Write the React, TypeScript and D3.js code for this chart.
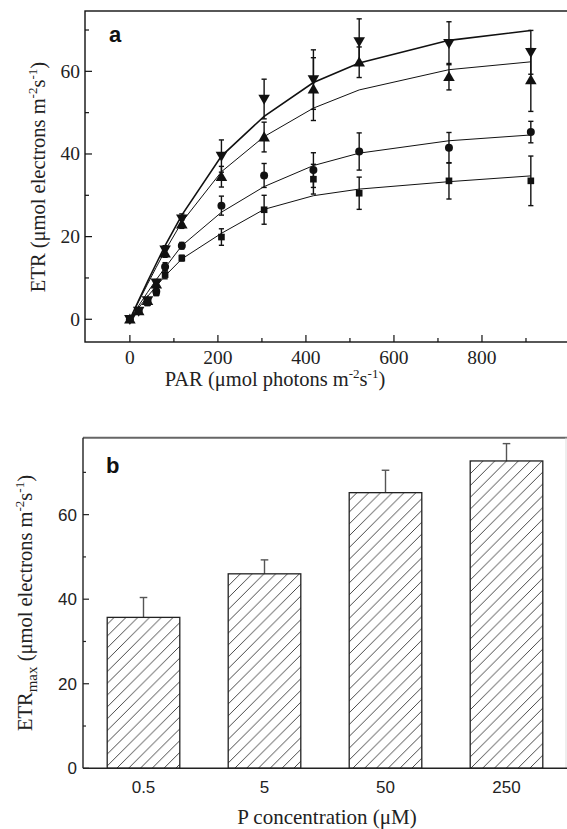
import React from 'react';
import * as d3 from 'd3';

// PAR levels (µmol photons m-2 s-1)
const par = [0, 20, 40, 60, 80, 118, 208, 305, 417, 521, 725, 911];

// measured ETR, one array per P concentration
const etr05 = [0, 2.0, 4.0, 6.5, 10.8, 14.8, 19.9, 26.5, 33.9, 30.5, 33.5, 33.5];
const err05 = [0.4, 0.5, 0.7, 0.8, 1.0, 0.7, 2.0, 3.5, 3.6, 3.9, 4.4, 6.0];
const etr5 = [0, 2.0, 4.5, 6.7, 12.7, 17.8, 27.5, 34.8, 36.1, 40.6, 41.5, 45.3];
const err5 = [0.4, 0.5, 0.7, 0.8, 1.0, 0.8, 2.3, 2.9, 4.2, 4.5, 3.7, 2.6];
const etr50 = [0, 2.0, 4.5, 8.5, 16.0, 23.0, 34.5, 44.1, 55.7, 62.2, 58.7, 57.9];
const err50 = [0.4, 0.5, 0.7, 0.8, 1.0, 1.0, 2.5, 3.6, 7.6, 3.7, 3.2, 7.6];
const etr250 = [0, 2.0, 4.5, 8.8, 16.8, 24.3, 39.5, 53.3, 58.0, 67.2, 66.8, 64.6];
const err250 = [0.4, 0.5, 0.7, 0.8, 1.0, 1.2, 3.9, 4.8, 7.2, 5.5, 5.2, 5.3];

// fitted curves read at the same PAR levels
const fit05 = [0, 2.8, 5.5, 8.0, 10.5, 14.6, 20.8, 26.6, 29.9, 31.5, 33.3, 34.7];
const fit5 = [0, 3.3, 6.5, 9.6, 12.5, 17.8, 25.9, 32.1, 37.2, 40.2, 43.2, 44.6];
const fit50 = [0, 4.3, 8.5, 12.6, 16.6, 23.5, 35.7, 44.2, 51.1, 55.5, 60.4, 62.3];
const fit250 = [0, 4.6, 9.1, 13.5, 17.8, 25.2, 39.5, 49.1, 57.3, 62.0, 67.5, 69.9];

// panel b
const conc = ['0.5', '5', '50', '250'];
const etrMax = [35.7, 46.0, 65.2, 72.7];
const etrMaxErr = [4.7, 3.3, 5.3, 4.1];

const xTicksA = [0, 200, 400, 600, 800];
const xMinorA = [100, 300, 500, 700, 900];
const yTicksA = [0, 20, 40, 60];
const yMinorA = [10, 30, 50, 70];
const yTicksB = [0, 20, 40, 60];
const yMinorB = [10, 30, 50, 70];

const SERIF = "'Liberation Serif', 'Times New Roman', serif";
const SANS = "'Liberation Sans', Arial, sans-serif";

const series = [
  { etr: etr05, err: err05, fit: fit05, symbol: 'square', lw: 1 },
  { etr: etr5, err: err5, fit: fit5, symbol: 'circle', lw: 1 },
  { etr: etr50, err: err50, fit: fit50, symbol: 'up', lw: 1 },
  { etr: etr250, err: err250, fit: fit250, symbol: 'down', lw: 1.6 },
];

const symPath = (s: string) => {
  if (s === 'square') return d3.symbol(d3.symbolSquare, 44)();
  if (s === 'circle') return d3.symbol(d3.symbolCircle, 50)();
  return d3.symbol(d3.symbolTriangle, 58)();
};

// label with superscripts m-2 s-1
const Units = ({ pre }: { pre: string }) => (
  <>
    {pre}m<tspan dy={-8} fontSize={13}>-2</tspan><tspan dy={8}>s</tspan><tspan dy={-8} fontSize={13}>-1</tspan><tspan dy={8}>)</tspan>
  </>
);

export default function App() {
  // panel a
  const xA = d3.scaleLinear().domain([-102, 1000]).range([85, 570]);
  const yA = d3.scaleLinear().domain([-5.5, 74.6]).range([342, 11]);
  const line = d3.line<number>().x((_, i) => xA(par[i])).y(d => yA(d));

  // panel b
  const xB = d3.scaleBand().domain(conc).range([83, 567]).paddingInner(0.4).paddingOuter(0.2);
  const yB = d3.scaleLinear().domain([0, 78.2]).range([768.3, 437.7]);

  const [ax0, ax1] = xA.range();
  const [ay0, ay1] = yA.range();

  return (
    <svg width={567} height={829} style={{ position: 'absolute', left: 0, top: 0, background: '#fff' }}>
      <defs>
        <pattern id="hatch" patternUnits="userSpaceOnUse" width={11.8} height={11.8}>
          <path d="M-3,3 L3,-3 M0,11.8 L11.8,0 M8.8,14.8 L14.8,8.8" stroke="#333" strokeWidth={0.9} />
        </pattern>
      </defs>

      {/* ---------- panel a ---------- */}
      <rect x={ax0} y={ay1} width={ax1 - ax0} height={ay0 - ay1} fill="none" stroke="#111" strokeWidth={1.4} />
      {xTicksA.map(t => (
        <g key={'xa' + t}>
          <line x1={xA(t)} x2={xA(t)} y1={ay0} y2={ay0 - 7} stroke="#111" strokeWidth={1.2} />
          <text x={xA(t)} y={364} textAnchor="middle" fontFamily={SERIF} fontSize={19.5} fill="#222">{t}</text>
        </g>
      ))}
      {xMinorA.map(t => (
        <line key={'xm' + t} x1={xA(t)} x2={xA(t)} y1={ay0} y2={ay0 - 4} stroke="#111" strokeWidth={1.2} />
      ))}
      {yTicksA.map(t => (
        <g key={'ya' + t}>
          <line x1={ax0} x2={ax0 + 7} y1={yA(t)} y2={yA(t)} stroke="#111" strokeWidth={1.2} />
          <text x={80} y={yA(t) + 6.5} textAnchor="end" fontFamily={SERIF} fontSize={19.5} fill="#222">{t}</text>
        </g>
      ))}
      {yMinorA.map(t => (
        <line key={'ym' + t} x1={ax0} x2={ax0 + 4} y1={yA(t)} y2={yA(t)} stroke="#111" strokeWidth={1.2} />
      ))}

      {series.map((s, k) => (
        <path key={'fit' + k} d={line(s.fit) || ''} fill="none" stroke="#111" strokeWidth={s.lw} />
      ))}
      {series.map((s, k) => (
        <g key={'err' + k} stroke="#111" strokeWidth={1.4}>
          {s.etr.map((v, i) => {
            const x = xA(par[i]);
            const yt = yA(v + s.err[i]);
            const yb = yA(v - s.err[i]);
            return (
              <g key={i}>
                <line x1={x} x2={x} y1={yt} y2={yb} />
                <line x1={x - 2.6} x2={x + 2.6} y1={yt} y2={yt} />
                <line x1={x - 2.6} x2={x + 2.6} y1={yb} y2={yb} />
              </g>
            );
          })}
        </g>
      ))}
      {series.map((s, k) => (
        <g key={'pt' + k} fill="#111">
          {s.etr.map((v, i) => (
            <path key={i} d={symPath(s.symbol) || ''}
              transform={`translate(${xA(par[i])},${yA(v) + (s.symbol === 'up' ? 1 : s.symbol === 'down' ? -1 : 0)})${s.symbol === 'down' ? ' rotate(180)' : ''}`} />
          ))}
        </g>
      ))}

      <text x={109} y={42} fontFamily={SANS} fontWeight="bold" fontSize={22} fill="#111">a</text>
      <text x={275} y={386} textAnchor="middle" fontFamily={SERIF} fontSize={20.5} fill="#222">
        <Units pre="PAR (μmol photons " />
      </text>
      <text transform="translate(45,177) rotate(-90)" textAnchor="middle" fontFamily={SERIF} fontSize={20.5} fill="#222">
        <Units pre="ETR (μmol electrons " />
      </text>

      {/* ---------- panel b ---------- */}
      {conc.map((c, i) => {
        const x = xB(c) as number;
        const cx = x + xB.bandwidth() / 2;
        const yt = yB(etrMax[i]);
        const ye = yB(etrMax[i] + etrMaxErr[i]);
        return (
          <g key={'bar' + c}>
            <line x1={cx} x2={cx} y1={yt} y2={ye} stroke="#555" strokeWidth={1.4} />
            <line x1={cx - 3.8} x2={cx + 3.8} y1={ye} y2={ye} stroke="#555" strokeWidth={1.4} />
            <rect x={x} y={yt} width={xB.bandwidth()} height={yB(0) - yt} fill="url(#hatch)" stroke="#222" strokeWidth={1.3} />
            <text x={cx} y={792.5} textAnchor="middle" fontFamily={SANS} fontSize={17} fill="#222">{c}</text>
          </g>
        );
      })}
      <line x1={83} x2={567} y1={yB.range()[1]} y2={yB.range()[1]} stroke="#666" strokeWidth={2} />
      <line x1={566} x2={566} y1={yB.range()[1]} y2={yB(0)} stroke="#ddd" strokeWidth={1} />
      <line x1={83} x2={83} y1={yB.range()[1]} y2={yB(0)} stroke="#222" strokeWidth={1.4} />
      <line x1={83} x2={567} y1={yB(0)} y2={yB(0)} stroke="#222" strokeWidth={1.4} />
      {yTicksB.map(t => (
        <g key={'yb' + t}>
          <line x1={83} x2={89} y1={yB(t)} y2={yB(t)} stroke="#222" strokeWidth={1.2} />
          <text x={77} y={yB(t) + 6} textAnchor="end" fontFamily={SANS} fontSize={17} fill="#222">{t}</text>
        </g>
      ))}
      {yMinorB.map(t => (
        <line key={'ybm' + t} x1={83} x2={86} y1={yB(t)} y2={yB(t)} stroke="#222" strokeWidth={1.2} />
      ))}
      <text x={106} y={473} fontFamily={SANS} fontWeight="bold" fontSize={22} fill="#111">b</text>
      <text x={327} y={824} textAnchor="middle" fontFamily={SERIF} fontSize={21} fill="#222">P concentration (μM)</text>
      <text transform="translate(32,603) rotate(-90)" textAnchor="middle" fontFamily={SERIF} fontSize={20.5} fill="#222">
        ETR<tspan dy={5} fontSize={15}>max</tspan><tspan dy={-5}> </tspan><Units pre="(μmol electrons " />
      </text>
    </svg>
  );
}
